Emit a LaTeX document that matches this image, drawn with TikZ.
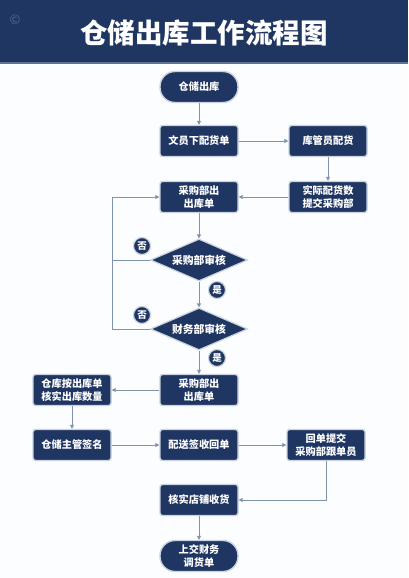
\documentclass[tikz,border=0pt]{standalone}
\usepackage{fontspec}
\setmainfont{Noto Sans CJK SC}
\usepackage{tikz}
\usetikzlibrary{shapes.geometric,arrows.meta,positioning}
\definecolor{navy}{HTML}{1F3562}
\definecolor{halo}{HTML}{C9D2DE}
\definecolor{flowline}{HTML}{7F93AB}
\definecolor{paper}{HTML}{FBFDFF}
\tikzset{
  box/.style={draw=halo, line width=1.4pt, fill=navy, rounded corners=2.5pt,
    minimum width=78pt, minimum height=31pt, inner sep=1pt, align=center,
    text=white, font=\fontsize{10.2}{12.5}\selectfont\bfseries},
  term/.style={box, rounded corners=15pt, minimum height=31pt},
  dec/.style={diamond, aspect=2.3, draw=halo, line width=1.2pt, fill=navy,
    minimum width=97pt, minimum height=42pt, inner sep=0pt,
    text=white, font=\fontsize{10.8}{12}\selectfont\bfseries},
  yn/.style={circle, draw=halo, line width=1.2pt, fill=navy, minimum size=17pt,
    inner sep=0pt, text=white, font=\fontsize{9.5}{10}\selectfont\bfseries},
  flow/.style={draw=flowline, line width=0.8pt, -{Triangle[length=4pt,width=4pt]}},
  link/.style={draw=flowline, line width=0.8pt}
}
\begin{document}
\begin{tikzpicture}[x=1pt,y=-1pt]
\useasboundingbox (0,0) rectangle (408,578);
\fill[paper] (0,0) rectangle (408,578);
% header
\fill[navy] (0,0) rectangle (408,62);
\fill[navy!70!white] (0,62) rectangle (408,64);
\node[text=navy!75!white, font=\fontsize{13}{13}\selectfont] (cpy) at (15,20) {©};
\node[text=white, font=\fontsize{27.5}{27.5}\selectfont\bfseries] (title) at (204,33) {仓储出库工作流程图};

% nodes
\node[term] (start) at (199,87) {仓储出库};
\node[box] (clerk) at (199,141) {文员下配货单};
\node[box] (keeper) at (328,141) {库管员配货};
\node[box] (actual) at (328,197) {实际配货数\\提交采购部};
\node[box] (order1) at (199,197) {采购部出\\出库单};
\node[dec] (chk1) at (199,260) {采购部审核};
\node[dec] (chk2) at (199,329) {财务部审核};
\node[box] (order2) at (199,390) {采购部出\\出库单};
\node[box] (verify) at (72,390) {仓库按出库单\\核实出库数量};
\node[box] (sign) at (72,445) {仓储主管签名};
\node[box] (receipt) at (199,445) {配送签收回单};
\node[box] (submit) at (326,445) {回单提交\\采购部跟单员};
\node[box] (shop) at (199,500) {核实店铺收货};
\node[term] (finish) at (199,556) {上交财务\\调货单};

% connectors
\draw[flow] (start) -- (clerk);
\draw[flow] (clerk) -- (keeper);
\draw[flow] (keeper) -- (actual);
\draw[flow] (actual) -- (order1);
\draw[flow] (order1) -- (chk1);
\draw[flow] (chk1) -- (chk2);
\draw[link] (chk1.west) -- ++(-38,0);
\draw[flow] (chk2.west) -- ++(-38,0) |- (order1.west);
\draw[flow] (chk2) -- (order2);
\draw[flow] (order2) -- (verify);
\draw[flow] (verify) -- (sign);
\draw[flow] (sign) -- (receipt);
\draw[flow] (receipt) -- (submit);
\draw[flow] (submit.south) |- (shop.east);
\draw[flow] (shop) -- (finish);

% yes / no marks
\node[yn] (no1) at (142,246) {否};
\node[yn] (yes1) at (217,290) {是};
\node[yn] (no2) at (142,315) {否};
\node[yn] (yes2) at (217,358) {是};
\end{tikzpicture}
\end{document}
